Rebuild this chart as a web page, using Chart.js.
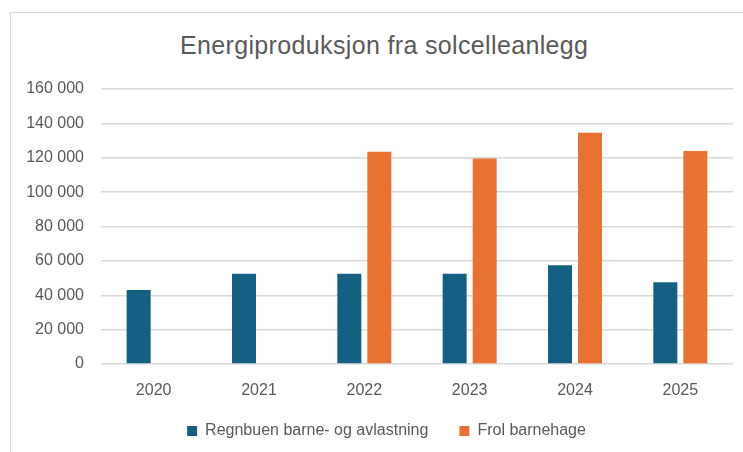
<!DOCTYPE html>
<html>
<head>
<meta charset="utf-8">
<script src="https://cdn.jsdelivr.net/npm/chart.js@4.4.1/dist/chart.umd.min.js"></script>
<style>
  html, body { margin: 0; padding: 0; background: #fff; overflow: hidden; }
  #frame { position: absolute; left: 10px; top: 12px; width: 760px; height: 460px;
           border-left: 1.5px solid #d9d9d9; border-top: 1.5px solid #d9d9d9; }
  #title { position: absolute; left: 180px; top: 31px; font-family: "Liberation Sans", Arial, sans-serif;
           font-size: 25px; letter-spacing: 0.35px; color: #595959; white-space: nowrap; }
  #wrap { position: absolute; left: 8px; top: 12px; width: 756px; height: 455px; }
</style>
</head>
<body>
<div id="frame"></div>
<div id="title">Energiproduksjon fra solcelleanlegg</div>
<div id="wrap"><canvas id="c"></canvas></div>
<script>
const years = ['2020', '2021', '2022', '2023', '2024', '2025'];
const regnbuen = [43000, 52500, 52500, 52500, 57500, 47500];
const frol = [null, null, 123500, 119500, 134500, 124000];
const seriesNames = ['Regnbuen barne- og avlastning', 'Frol barnehage'];
const yMax = 160000, yStep = 20000;

const fmtNum = (v) => String(v).replace(/\B(?=(\d{3})+(?!\d))/g, ' ');
const font = { family: '"Liberation Sans", Arial, sans-serif', size: 16 };

// nudge the legend: up closer to the axis, and right to offset the trailing item padding
const legendNudge = {
  id: 'legendNudge',
  afterLayout(chart) {
    const lg = chart.legend;
    lg.top -= 18; lg.bottom -= 18;
    lg.left += 16; lg.right += 16;
  }
};

new Chart(document.getElementById('c'), {
  type: 'bar',
  data: {
    labels: years,
    datasets: [
      { label: seriesNames[0], data: regnbuen, backgroundColor: '#156082' },
      { label: seriesNames[1], data: frol, backgroundColor: '#E97132' }
    ]
  },
  options: {
    responsive: true,
    maintainAspectRatio: false,
    animation: false,
    layout: { padding: { top: 77, right: 31, bottom: 0, left: 0 } },
    datasets: { bar: { categoryPercentage: 0.57, barPercentage: 0.8 } },
    scales: {
      x: {
        grid: { display: false, drawTicks: false },
        border: { display: false },
        ticks: { color: '#595959', font, padding: 17 },
        afterFit: (s) => { s.height = 46; }
      },
      y: {
        min: 0, max: yMax,
        grid: { color: '#d9d9d9', lineWidth: 1.5, drawTicks: false },
        border: { display: false },
        ticks: { stepSize: yStep, color: '#595959', font, padding: 17, callback: (v) => fmtNum(v) },
        afterFit: (s) => { s.width = 93; }
      }
    },
    plugins: {
      legend: {
        position: 'bottom',
        labels: { color: '#595959', font, boxWidth: 10, boxHeight: 10, padding: 31 }
      },
      tooltip: { enabled: false }
    }
  },
  plugins: [legendNudge]
});
</script>
</body>
</html>
